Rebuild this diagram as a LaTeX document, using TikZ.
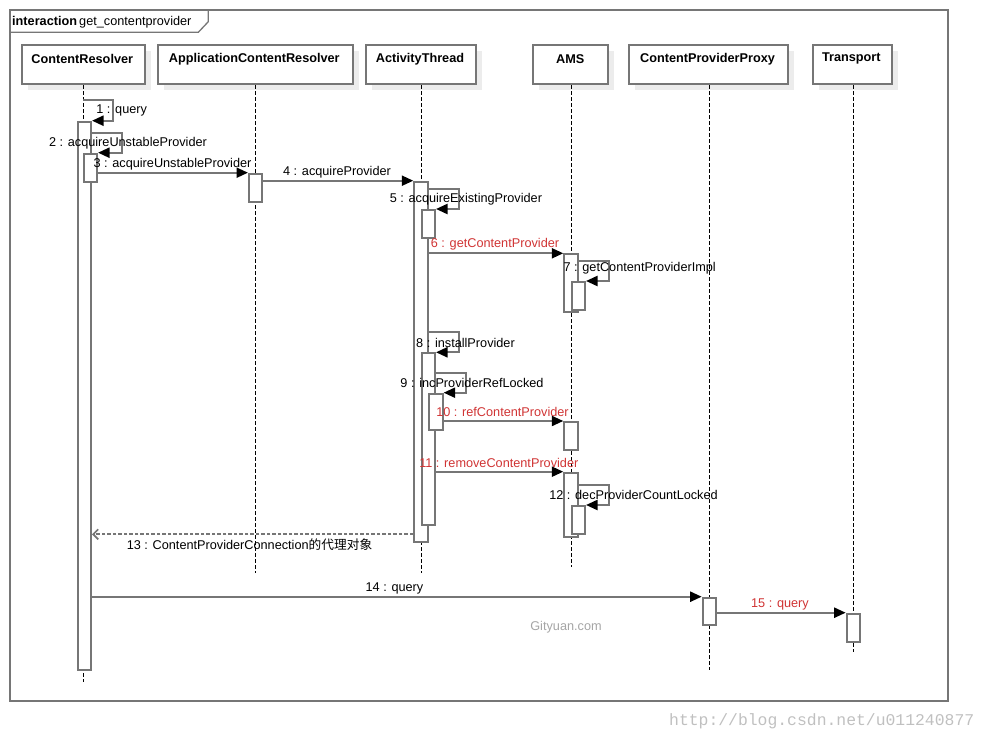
\documentclass[tikz,border=0pt]{standalone}
\usepackage{fontspec}
\setmainfont{Liberation Sans}
\newfontfamily\cjkfont{Noto Sans CJK SC}
\newfontfamily\wmfont{Liberation Mono}
\usetikzlibrary{arrows.meta}
\definecolor{lg}{RGB}{118,118,118}
\definecolor{redmsg}{RGB}{208,52,52}
\definecolor{shadowc}{RGB}{236,236,236}
\definecolor{wmgray}{RGB}{165,165,165}
\definecolor{urlgray}{RGB}{192,192,192}
\tikzset{
  txt/.style={font=\fontsize{12.7}{15}\selectfont, inner sep=0pt},
  headbox/.style={draw=lg, line width=2pt, fill=white, anchor=north west, minimum height=39pt, inner sep=0pt},
  headtxt/.style={inner sep=0pt, font=\fontsize{12.7}{15}\selectfont\bfseries},
  life/.style={black, line width=1pt, dash pattern=on 3.5pt off 2.5pt},
  actbar/.style={draw=lg, line width=2pt, fill=white, anchor=north west, minimum width=13.3pt, inner sep=0pt},
  msg/.style={draw=lg, line width=2.1pt, -{Triangle[length=11.5pt,width=10pt,color=black]}},
  retmsg/.style={draw=lg, line width=1.7pt, dash pattern=on 3.5pt off 2pt, -{Straight Barb[length=5pt,width=10pt]}},
  lbl/.style={txt, text=black},
  rlbl/.style={txt, text=redmsg},
}
\begin{document}
\begin{tikzpicture}[x=1pt,y=-1pt]
\useasboundingbox (0,0) rectangle (989,741);
% frame
\draw[lg, line width=2pt] (10,10) rectangle (948,700.7);
\draw[lg, line width=1.3pt] (10,32.3) -- (198.3,32.3) -- (208.3,21.7) -- (208.3,10);
\node[txt, anchor=west] (tab) at (12,22) {\textbf{interaction}\,get\_contentprovider};
% heads with shadows
\fill[shadowc] (27.7,51.3) rectangle (151,90.3);
\fill[shadowc] (163.7,51.3) rectangle (359,90.3);
\fill[shadowc] (372,51.3) rectangle (482,90.3);
\fill[shadowc] (539,51.3) rectangle (613.5,90.3);
\fill[shadowc] (635.3,51.3) rectangle (793.8,90.3);
\fill[shadowc] (819,51.3) rectangle (897.6,90.3);
\node[headbox, minimum width=123.3pt] (cr) at (20.7,44.3) {};
\node[headbox, minimum width=195.3pt] (acr) at (156.7,44.3) {};
\node[headbox, minimum width=110pt] (at) at (365,44.3) {};
\node[headbox, minimum width=74.5pt] (ams) at (532,44.3) {};
\node[headbox, minimum width=158.5pt] (cpp) at (628.3,44.3) {};
\node[headbox, minimum width=78.6pt] (tr) at (812,44.3) {};
\node[headtxt] (crt) at (82.3,58.8) {ContentResolver};
\node[headtxt] (acrt) at (254.3,58.8) {ApplicationContentResolver};
\node[headtxt] (att) at (420,58.8) {ActivityThread};
\node[headtxt] (amst) at (570.3,58.8) {AMS};
\node[headtxt] (cppt) at (707.5,58.8) {ContentProviderProxy};
\node[headtxt] (trt) at (851.3,58.8) {Transport};
% lifelines
\coordinate (crE) at (83,681.7);
\coordinate (acrE) at (255.3,572.7);
\coordinate (atE) at (421.7,572.7);
\coordinate (amsE) at (571.3,567);
\coordinate (cppE) at (709.3,670);
\coordinate (trE) at (853.3,651.7);
\draw[life] (cr.south -| crE) -- (crE);
\draw[life] (acr.south -| acrE) -- (acrE);
\draw[life] (at.south -| atE) -- (atE);
\draw[life] (ams.south -| amsE) -- (amsE);
\draw[life] (cpp.south -| cppE) -- (cppE);
\draw[life] (tr.south -| trE) -- (trE);
% activation bars
\node[actbar, minimum height=548pt] (crA) at (76.7,120.7) {};
\node[actbar, minimum height=28pt] (crB) at (82.7,152.7) {};
\node[actbar, minimum height=28pt] (acrA) at (248,172.7) {};
\node[actbar, minimum height=360pt] (atA) at (413.3,180.7) {};
\node[actbar, minimum height=27.7pt] (atB) at (420.7,209) {};
\node[actbar, minimum height=171.7pt] (atC) at (420.7,352.3) {};
\node[actbar, minimum height=36.3pt] (atD) at (428.3,392.7) {};
\node[actbar, minimum height=57.7pt] (amsA) at (563.3,253.3) {};
\node[actbar, minimum height=28.3pt] (amsB) at (570.7,281) {};
\node[actbar, minimum height=28pt] (amsC) at (563.3,421) {};
\node[actbar, minimum height=64.3pt] (amsD) at (563.3,471.7) {};
\node[actbar, minimum height=28.3pt] (amsE2) at (570.7,505) {};
\node[actbar, minimum height=27.6pt] (cppA) at (701.7,596.7) {};
\node[actbar, minimum height=28.3pt] (trA) at (845.7,612.7) {};
% messages
\coordinate (m1s) at (83,100.3);
\draw[msg] (m1s) -- ++(30,0) |- (crA.north east);
\draw[msg] (crA.east |- 0,132.7) -- ++(30,0) |- (crB.north east);
\draw[msg] (crB.east |- 0,172.7) -- (acrA.north west);
\draw[msg] (acrA.east |- 0,180.7) -- (atA.north west);
\draw[msg] (atA.east |- 0,189) -- ++(30,0) |- (atB.north east);
\draw[msg] (atA.east |- 0,253.3) -- (amsA.north west);
\draw[msg] (amsA.east |- 0,261) -- ++(30,0) |- (amsB.north east);
\draw[msg] (atA.east |- 0,332.3) -- ++(30,0) |- (atC.north east);
\draw[msg] (atC.east |- 0,372.7) -- ++(30,0) |- (atD.north east);
\draw[msg] (atD.east |- 0,421) -- (amsC.north west);
\draw[msg] (atC.east |- 0,471.7) -- (amsD.north west);
\draw[msg] (amsD.east |- 0,485) -- ++(30,0) |- (amsE2.north east);
\draw[retmsg] (atA.west |- 0,534.3) -- (crA.east |- 0,534.3);
\draw[msg] (crA.east |- 0,596.7) -- (cppA.north west);
\draw[msg] (cppA.east |- 0,612.7) -- (trA.north west);
% labels
\node[lbl] (l1) at (121.7,110.8) {1 : query};
\node[lbl] (l2) at (128,142.8) {2 : acquireUnstableProvider};
\node[lbl] (l3) at (172.5,163.8) {3 : acquireUnstableProvider};
\node[lbl] (l4) at (337,172.2) {4 : acquireProvider};
\node[lbl] (l5) at (465.9,199.2) {5 : acquireExistingProvider};
\node[rlbl] (l6) at (495,243.8) {6 : getContentProvider};
\node[lbl] (l7) at (639.7,268.2) {7 : getContentProviderImpl};
\node[lbl] (l8) at (465.5,342.8) {8 : installProvider};
\node[lbl] (l9) at (472,382.5) {9 : incProviderRefLocked};
\node[rlbl] (l10) at (502.5,411.5) {10 : refContentProvider};
\node[rlbl] (l11) at (498.8,462.5) {11 : removeContentProvider};
\node[lbl] (l12) at (633.5,494.8) {12 : decProviderCountLocked};
\node[lbl] (l13) at (249.5,545) {13 : ContentProviderConnection{\cjkfont 的代理对象}};
\node[lbl] (l14) at (394.5,588.2) {14 : query};
\node[rlbl] (l15) at (780,604.2) {15 : query};
\node[txt, text=wmgray] (wm1) at (566,627) {Gityuan.com};
\node[inner sep=0pt, text=urlgray, font=\wmfont\fontsize{16.4}{18}\selectfont] (wm2) at (821.7,721) {http://blog.csdn.net/u011240877};
\end{tikzpicture}
\end{document}
